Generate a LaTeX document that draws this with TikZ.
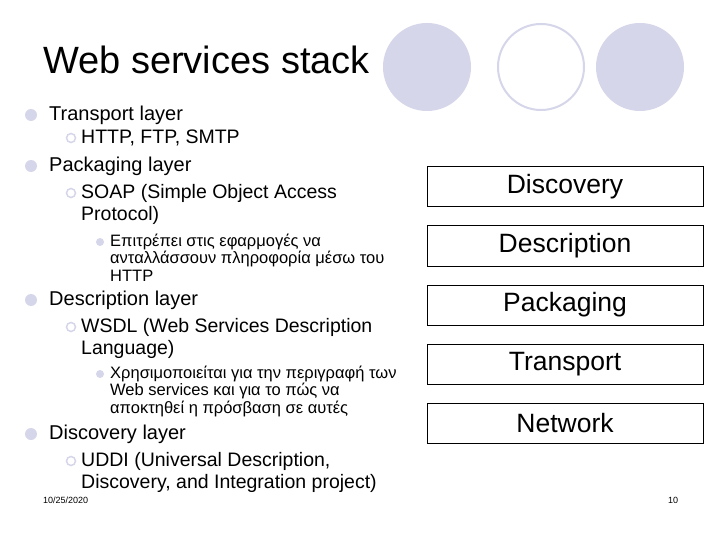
\documentclass[tikz,border=0pt]{standalone}
\usepackage{fontspec}
\setmainfont{Liberation Sans}
\definecolor{lav}{RGB}{214,214,234}
\begin{document}
\begin{tikzpicture}[x=1pt,y=-1pt,
  la/.style={anchor=west,inner sep=0pt,font=\fontsize{20}{22}\selectfont},
  lb/.style={anchor=west,inner sep=0pt,font=\fontsize{19.5}{22}\selectfont},
  lc/.style={anchor=west,inner sep=0pt,font=\fontsize{16.5}{18}\selectfont},
  ba/.style={fill=lav,circle,inner sep=0pt,minimum size=12pt},
  bb/.style={draw=lav,line width=1.5pt,circle,inner sep=0pt,minimum size=9pt},
  bc/.style={fill=lav,circle,inner sep=0pt,minimum size=8pt},
  layer/.style={draw=black,line width=1pt,minimum width=276pt,minimum height=40pt,inner sep=0pt,font=\fontsize{26.5}{28}\selectfont}]
\useasboundingbox (0,0) rectangle (720,540);
\fill[white] (0,0) rectangle (720,540);
% top circles
\node[fill=lav,circle,minimum size=88pt,inner sep=0pt] (c1) at (427,67) {};
\node[draw=lav,line width=2pt,circle,minimum size=86pt,inner sep=0pt] (c2) at (541,67) {};
\node[fill=lav,circle,minimum size=88pt,inner sep=0pt] (c3) at (640,67) {};
\node[anchor=west,inner sep=0pt,font=\fontsize{38}{40}\selectfont] (title) at (43,60) {Web services stack};
% bullets
\node[ba] (b1) at (31,115) {}; \node[la] (t1) at (49,115) {Transport layer};
\node[bb] (b2) at (71,138) {}; \node[lb] (t2) at (81,138) {HTTP, FTP, SMTP};
\node[ba] (b3) at (31,166) {}; \node[la] (t3) at (49,166) {Packaging layer};
\node[bb] (b4) at (71,193) {}; \node[lb] (t4) at (81,193) {SOAP (Simple Object Access};
\node[lb] (t4b) at (81,215) {Protocol)};
\node[bc] (b5) at (100,242) {}; \node[lc] (t5) at (110,242) {Επιτρέπει στις εφαρμογές να};
\node[lc] (t5b) at (110,259) {ανταλλάσσουν πληροφορία μέσω του};
\node[lc] (t5c) at (110,276) {HTTP};
\node[ba] (b6) at (31,300) {}; \node[la] (t6) at (49,300) {Description layer};
\node[bb] (b7) at (71,327) {}; \node[lb] (t7) at (81,327) {WSDL (Web Services Description};
\node[lb] (t7b) at (81,349) {Language)};
\node[bc] (b8) at (100,374) {}; \node[lc] (t8) at (110,374) {Χρησιμοποιείται για την περιγραφή των};
\node[lc] (t8b) at (110,391) {Web services και για το πώς να};
\node[lc] (t8c) at (110,409) {αποκτηθεί η πρόσβαση σε αυτές};
\node[ba] (b9) at (31,434) {}; \node[la] (t9) at (49,434) {Discovery layer};
\node[bb] (b10) at (71,461) {}; \node[lb] (t10) at (81,461) {UDDI (Universal Description,};
\node[lb] (t10b) at (81,483) {Discovery, and Integration project)};
% footer
\node[anchor=west,inner sep=0pt,font=\fontsize{9}{10}\selectfont] (date) at (43,500) {10/25/2020};
\node[anchor=west,inner sep=0pt,font=\fontsize{9}{10}\selectfont] (page) at (668,500) {10};
% layers
\node[layer] (l1) at (565,187) {Discovery};
\node[layer] (l2) at (565,246) {Description};
\node[layer] (l3) at (565,305) {Packaging};
\node[layer] (l4) at (565,364) {Transport};
\node[layer] (l5) at (565,423) {Network};
\end{tikzpicture}
\end{document}
